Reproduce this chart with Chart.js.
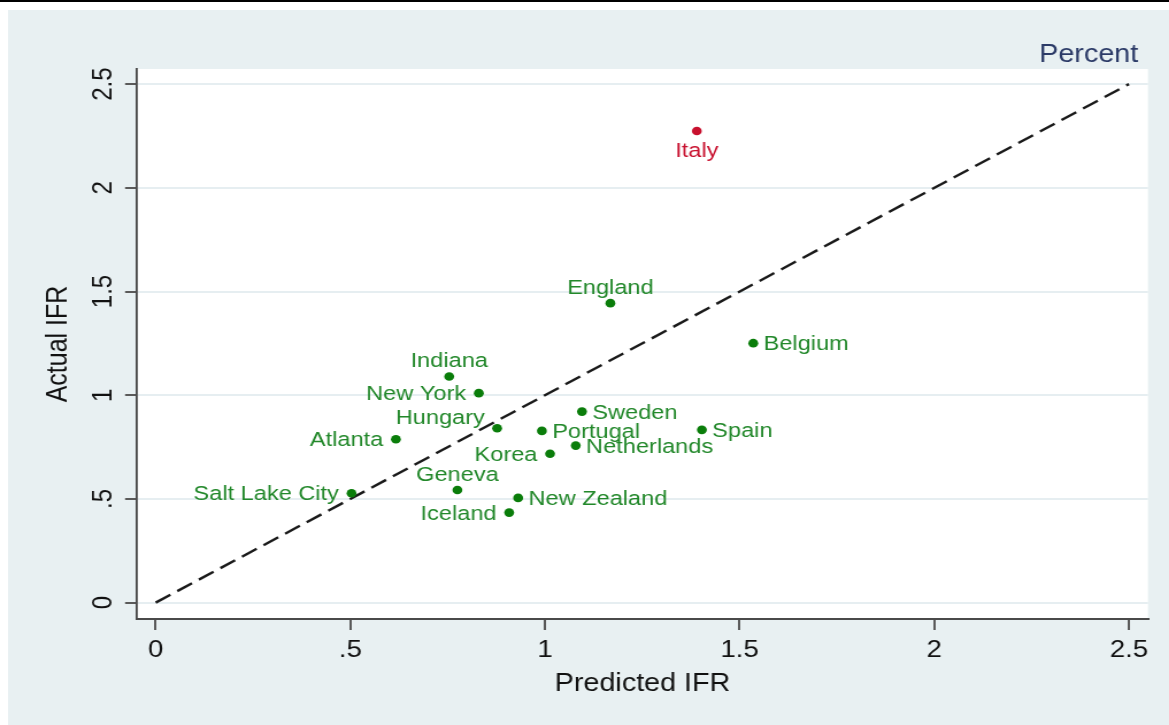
<!DOCTYPE html>
<html>
<head>
<meta charset="utf-8">
<script src="https://cdn.jsdelivr.net/npm/chart.js@4.4.1/dist/chart.umd.min.js"></script>
<style>
  html, body { margin: 0; padding: 0; background: #ffffff; overflow: hidden; }
  #wrap { width: 1017px; height: 725px; transform: scaleX(1.1495); transform-origin: 0 0; }
  canvas { display: block; }
</style>
</head>
<body>
<div id="wrap"><canvas id="c" width="1017" height="725"></canvas></div>
<script>
// ---- data ----
const places = ["Italy", "England", "Belgium", "Indiana", "New York", "Sweden", "Hungary", "Portugal",
  "Spain", "Atlanta", "Netherlands", "Korea", "Geneva", "Salt Lake City", "New Zealand", "Iceland"];
const predictedIFR = [1.390, 1.168, 1.535, 0.754, 0.830, 1.095, 0.877, 0.992,
  1.403, 0.617, 1.079, 1.013, 0.775, 0.503, 0.931, 0.908];
const actualIFR = [2.274, 1.444, 1.251, 1.090, 1.010, 0.921, 0.841, 0.828,
  0.833, 0.788, 0.757, 0.718, 0.543, 0.527, 0.505, 0.434];
const refLine = [0, 2.5];
const tickValues = [0, 0.5, 1, 1.5, 2, 2.5];
const tickLabels = ["0", ".5", "1", "1.5", "2", "2.5"];
const highlighted = "Italy";

// ---- styling (label placement per point, Stata clock style) ----
const labelPos = ['b','t','r','t','l','r','tl','r','r','l','r','l','t','l','r','l'];

const FONT = "'Liberation Sans', Arial, Helvetica, sans-serif";
Chart.defaults.font.family = FONT;

const GREEN_PT = '#0a7d0a';
const GREEN_TX = '#22882a';
const RED = '#c8102e';

const bgPlugin = {
  id: 'bg',
  beforeDraw(chart) {
    const {ctx, chartArea: a, width, height} = chart;
    ctx.save();
    ctx.fillStyle = '#ffffff';
    ctx.fillRect(0, 0, width, height);
    ctx.fillStyle = '#000000';
    ctx.fillRect(0, 0, width, 2);
    ctx.fillStyle = '#e8f0f2';
    ctx.fillRect(7, 10, width - 7, height - 10);
    ctx.fillStyle = '#ffffff';
    ctx.fillRect(a.left, a.top, a.right - a.left, a.bottom - a.top);
    ctx.restore();
  }
};

const labelPlugin = {
  id: 'pointLabels',
  afterDatasetsDraw(chart) {
    const {ctx} = chart;
    const meta = chart.getDatasetMeta(0);
    ctx.save();
    ctx.font = '20.5px ' + FONT;
    ctx.textBaseline = 'alphabetic';
    meta.data.forEach((el, i) => {
      const name = places[i];
      ctx.fillStyle = name === highlighted ? RED : GREEN_TX;
      const p = labelPos[i];
      let x = el.x, y = el.y;
      if (p === 'r') { ctx.textAlign = 'left'; x += 9; y += 7; }
      else if (p === 'l') { ctx.textAlign = 'right'; x -= 11; y += 7; }
      else if (p === 't') { ctx.textAlign = 'center'; y -= 9.5; }
      else if (p === 'b') { ctx.textAlign = 'center'; y += 26; }
      else if (p === 'tl') { ctx.textAlign = 'right'; x -= 10.7; y -= 4; }
      ctx.fillText(name, x, y);
    });
    // subtitle "Percent"
    const a = chart.chartArea;
    ctx.fillStyle = '#2b3a67';
    ctx.font = '25px ' + FONT;
    ctx.textAlign = 'right';
    ctx.fillText('Percent', a.right - 8.5, 61.5);
    ctx.restore();
  }
};

const fixedTicks = (scale) => { scale.ticks = tickValues.map(v => ({value: v})); };
const fmt = (v) => { const i = tickValues.indexOf(v); return i >= 0 ? tickLabels[i] : ''; };

new Chart(document.getElementById('c'), {
  type: 'scatter',
  data: {
    datasets: [
      {
        label: 'IFR',
        data: places.map((n, i) => ({x: predictedIFR[i], y: actualIFR[i]})),
        pointRadius: 4.3,
        pointHoverRadius: 4.3,
        borderWidth: 0,
        pointBackgroundColor: (c) => places[c.dataIndex] === highlighted ? RED : GREEN_PT,
        pointBorderColor: (c) => places[c.dataIndex] === highlighted ? RED : GREEN_PT
      },
      {
        type: 'line',
        label: '45 degree',
        data: refLine.map(v => ({x: v, y: v})),
        borderColor: '#1a1a1a',
        borderWidth: 2.4,
        borderDash: [15, 7],
        pointRadius: 0,
        fill: false,
        tension: 0
      }
    ]
  },
  options: {
    responsive: false,
    animation: false,
    devicePixelRatio: 1,
    layout: { padding: { left: 0, right: 18.3, top: 69, bottom: 0 } },
    plugins: { legend: { display: false }, tooltip: { enabled: false }, title: { display: false } },
    scales: {
      x: {
        type: 'linear',
        min: -0.048,
        max: 2.549,
        afterBuildTicks: fixedTicks,
        afterFit: (s) => { s.height = 106; },
        grid: { drawOnChartArea: false, drawTicks: true, tickLength: 11, tickColor: '#5a5a5a', lineWidth: 2 },
        border: { display: true, color: '#4a4a4a', width: 2 },
        ticks: { callback: fmt, autoSkip: false, maxRotation: 0, minRotation: 0, padding: 6,
                 color: '#111111', font: { size: 24 } },
        title: { display: true, text: 'Predicted IFR', color: '#111111', font: { size: 25 },
                 padding: { top: 0, bottom: 26 } }
      },
      y: {
        type: 'linear',
        min: -0.079,
        max: 2.573,
        afterBuildTicks: fixedTicks,
        afterFit: (s) => { s.width = 119.2; },
        grid: { drawOnChartArea: true, drawTicks: true, tickLength: 10.4, color: '#e6eef1',
                tickColor: '#5a5a5a', lineWidth: 2 },
        border: { display: true, color: '#4a4a4a', width: 1.8 },
        ticks: { callback: fmt, autoSkip: false, minRotation: 90, maxRotation: 90, crossAlign: 'center',
                 padding: 1.6, color: '#111111', font: { size: 24 } },
        title: { display: true, text: 'Actual IFR', color: '#111111', font: { size: 25 },
                 padding: { top: 36, bottom: 0 } }
      }
    }
  },
  plugins: [bgPlugin, labelPlugin]
});
</script>
</body>
</html>
